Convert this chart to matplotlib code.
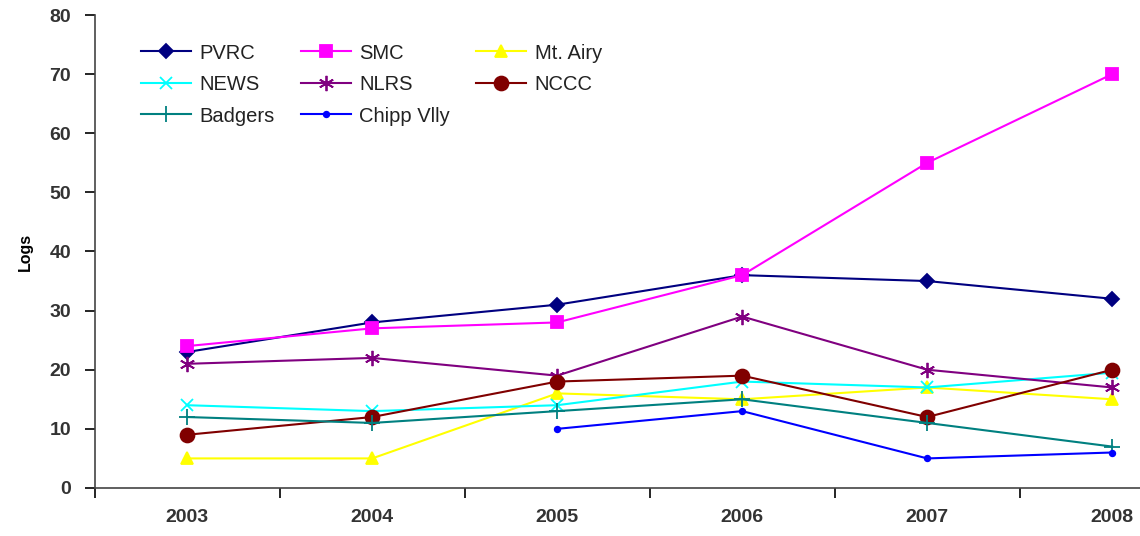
import numpy as np
import matplotlib
matplotlib.use("Agg")
import matplotlib.pyplot as plt

# === DATA ===
years = ['2003', '2004', '2005', '2006', '2007', '2008']
pvrc = [23, 28, 31, 36, 35, 32]
smc = [24, 27, 28, 36, 55, 70]
mt_airy = [5, 5, 16, 15, 17, 15]
news = [14, 13, 14, 18, 17, 19.5]
nlrs = [21, 22, 19, 29, 20, 17]
nccc = [9, 12, 18, 19, 12, 20]
badgers = [12, 11, 13, 15, 11, 7]
chipp_vlly = [np.nan, np.nan, 10, 13, 5, 6]

plt.rcParams['font.family'] = ['Liberation Sans', 'DejaVu Sans']

fig = plt.figure(figsize=(11.4, 5.36), dpi=100)
ax = fig.add_axes([0.083, 0.0896, 0.917, 0.8824])

x = np.arange(len(years))
series = [
    ('PVRC', pvrc, '#000080', 'D', 7, 1.5),
    ('SMC', smc, '#FF00FF', 's', 9, 1.5),
    ('Mt. Airy', mt_airy, '#FFFF00', '^', 9, 1.5),
    ('NEWS', news, '#00FFFF', 'x', 9, 1.5),
    ('NLRS', nlrs, '#800080', (6, 2, 0), 11, 1.5),
    ('NCCC', nccc, '#800000', 'o', 10, 1.5),
    ('Badgers', badgers, '#008080', '+', 11, 1.5),
    ('Chipp Vlly', chipp_vlly, '#0000FF', 'o', 4, 1.5),
]
lines = {}
for name, vals, col, mk, ms, lw in series:
    lines[name], = ax.plot(x, vals, color=col, marker=mk, markersize=ms,
                           linewidth=lw, markeredgewidth=1.3, label=name)

ax.set_yticks(range(0, 81, 10))
ax.set_xticks(x)
ax.set_xticklabels(years)
ax.set_xticks(np.arange(-0.5, 5.6, 1), minor=True)
ax.set_ylim(0, 80)
ax.set_xlim(-0.5, 5.15)
ax.tick_params(axis='x', which='major', length=0, pad=15)
ax.tick_params(axis='x', which='minor', length=7, direction='out', width=1.2)
ax.tick_params(axis='y', length=7, direction='out', width=1.2, pad=10)
for lab in ax.get_xticklabels() + ax.get_yticklabels():
    lab.set_fontsize(14)
    lab.set_fontweight('bold')
    lab.set_color('#333333')

ax.spines['top'].set_visible(False)
ax.spines['right'].set_visible(False)
for s in ['left', 'bottom']:
    ax.spines[s].set_linewidth(1.2)
    ax.spines[s].set_color('#444444')

ax.set_ylabel('Logs', fontsize=11.5, fontweight='bold', labelpad=12)

# row-major legend order like the original
order = ['PVRC', 'NEWS', 'Badgers', 'SMC', 'NLRS', 'Chipp Vlly', 'Mt. Airy', 'NCCC']
leg = ax.legend([lines[n] for n in order], order, loc='upper left',
                bbox_to_anchor=(0.027, 0.978), ncol=3, frameon=False,
                fontsize=14.5, handlelength=2.5, columnspacing=1.3,
                labelspacing=0.62, handletextpad=0.4)
for t in leg.get_texts():
    t.set_color('#222222')

fig.savefig('out.png', dpi=100)
